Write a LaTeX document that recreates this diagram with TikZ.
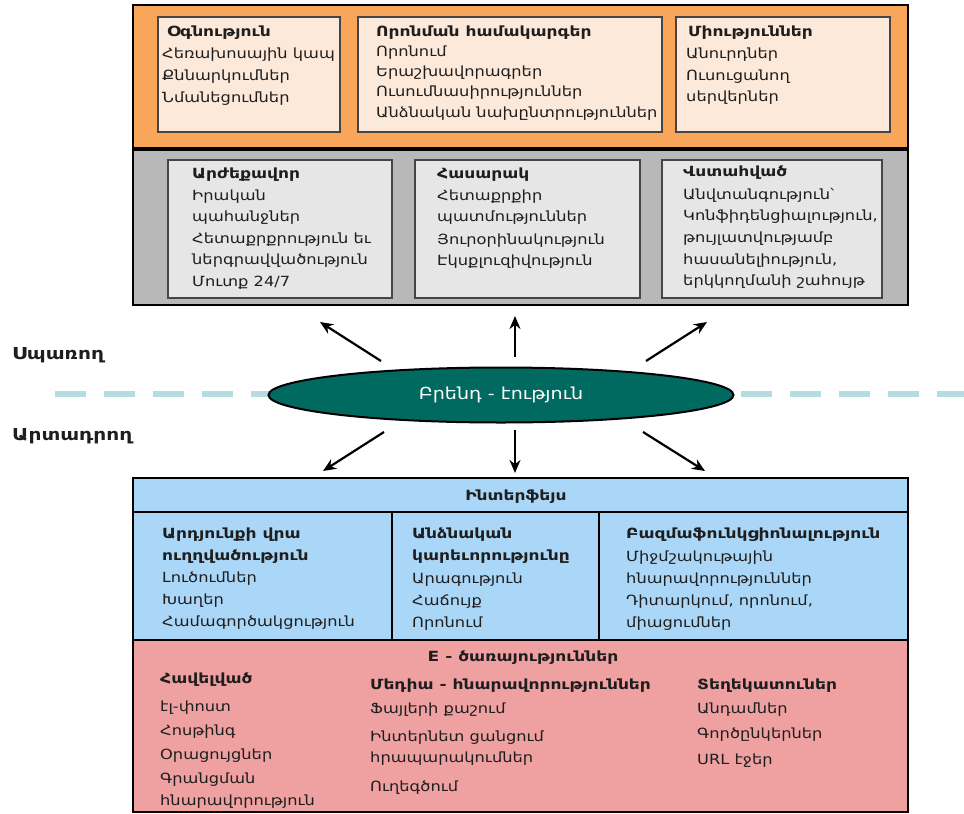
\documentclass[tikz,border=0pt]{standalone}
\usepackage{fontspec}
\setmainfont{DejaVu Sans}
% wide Armenian faces: regular and bold with their own stretch
\newfontfamily\bodyfam{DejaVu Sans}[FakeStretch=1.16]
\newfontfamily\headfam{DejaVu Sans Bold}[FakeStretch=1.22]
\usetikzlibrary{arrows.meta,shapes.geometric}
\definecolor{orangebg}{HTML}{F9A65A}
\definecolor{creambox}{HTML}{FDE9D9}
\definecolor{graybg}{HTML}{B8B8B8}
\definecolor{grayboxfill}{HTML}{E6E6E6}
\definecolor{bluebg}{HTML}{AAD7F8}
\definecolor{pinkbg}{HTML}{EFA0A0}
\definecolor{teal}{HTML}{006A60}
\definecolor{dashcol}{HTML}{B5DCE0}
\definecolor{ink}{HTML}{1E1E1E}
\definecolor{innerline}{HTML}{454545}
\begin{document}
\begin{tikzpicture}[x=1pt,y=-1pt,
  outerbox/.style={draw=black,line width=2.6pt,minimum width=#1,inner sep=0,rectangle},
  innerbox/.style={draw=innerline,line width=1.3pt,inner sep=0,rectangle},
  body/.style={font=\bodyfam\fontsize{14}{16}\selectfont,text=ink,anchor=base west,inner sep=0},
  head/.style={font=\headfam\fontsize{14}{16}\selectfont,text=ink,anchor=base west,inner sep=0},
  side/.style={font=\headfam\fontsize{16.5}{19}\selectfont,text=ink,anchor=base west,inner sep=0},
  arr/.style={draw=black,line width=2.2pt,-{Stealth[length=13pt,width=11pt]}},
]
\useasboundingbox (0,0) rectangle (964,814);

% ---------- upper panel: orange row ----------
\node[outerbox=775pt,minimum height=143pt,fill=orangebg] (top) at (520.5,76.5) {};
\node[innerbox,fill=creambox,minimum width=182pt,minimum height=115pt] (help) at (249,74.5) {};
\node[innerbox,fill=creambox,minimum width=304pt,minimum height=115pt] (search) at (510,74.5) {};
\node[innerbox,fill=creambox,minimum width=214pt,minimum height=115pt] (unions) at (783,74.5) {};

\node[head] (h1) at (167,36) {Օգնություն};
\node[body] (h2) at (162,58) {Հեռախոսային կապ};
\node[body] (h3) at (162,80) {Քննարկումներ};
\node[body] (h4) at (162,102) {Նմանեցումներ};

\node[head] (s1) at (376,36) {Որոնման համակարգեր};
\node[body] (s2) at (376,56) {Որոնում};
\node[body] (s3) at (376,76) {Երաշխավորագրեր};
\node[body] (s4) at (376,96) {Ուսումնասիրություններ};
\node[body] (s5) at (376,117) {Անձնական նախընտրություններ};

\node[head] (u1) at (688,36) {Միություններ};
\node[body] (u2) at (686,58) {Անուրդներ};
\node[body] (u3) at (686,80) {Ուսուցանող};
\node[body] (u4) at (686,101) {սերվերներ};

% ---------- upper panel: gray row ----------
\node[outerbox=775pt,minimum height=157pt,fill=graybg] (mid) at (520.5,226.5) {};
\node[innerbox,fill=grayboxfill,minimum width=224pt,minimum height=138pt] (valuable) at (280,229) {};
\node[innerbox,fill=grayboxfill,minimum width=225pt,minimum height=138pt] (simple) at (527.5,229) {};
\node[innerbox,fill=grayboxfill,minimum width=220pt,minimum height=138pt] (trusted) at (772,229) {};
% redraw shared edge of the orange row
\draw[line width=2.6pt] (top.south west) -- (top.south east);

\node[head] (v1) at (192,178) {Արժեքավոր};
\node[body] (v2) at (192,200) {Իրական};
\node[body] (v3) at (192,221) {պահանջներ};
\node[body] (v4) at (192,243) {Հետաքրքրություն եւ};
\node[body] (v5) at (192,264) {ներգրավվածություն};
\node[body] (v6) at (192,286) {Մուտք 24/7};

\node[head] (p1) at (437,178) {Հասարակ};
\node[body] (p2) at (437,200) {Հետաքրքիր};
\node[body] (p3) at (437,221) {պատմություններ};
\node[body] (p4) at (437,244) {Յուրօրինակություն};
\node[body] (p5) at (437,265) {Էկսքլուզիվություն};

\node[head] (r1) at (683,176) {Վստահված};
\node[body] (r2) at (683,199) {Անվտանգություն՝};
\node[body] (r3) at (683,220) {Կոնֆիդենցիալություն,};
\node[body] (r4) at (683,242) {թույլատվությամբ};
\node[body] (r5) at (683,264) {հասանելիություն,};
\node[body] (r6) at (683,285) {երկկողմանի շահույթ};

% ---------- brand core ----------
\coordinate (dl) at (55,394);
\coordinate (dr) at (964,394);
\draw[dashcol,line width=6pt,dash pattern=on 31pt off 18pt] (dl) -- (dr);
\node[ellipse,draw=black,line width=2pt,fill=teal,minimum width=465pt,minimum height=55pt,
      text=white,font=\bodyfam\fontsize{16.5}{18}\selectfont,inner sep=0] (brand) at (501,395) {Բրենդ - էություն};

\node[side] (consumer) at (12,359) {Սպառող};
\node[side] (producer) at (12,440) {Արտադրող};

\coordinate (aul0) at (381,361); \coordinate (aul1) at (320,322);
\coordinate (au0)  at (515,357); \coordinate (au1)  at (515,316);
\coordinate (aur0) at (646,361); \coordinate (aur1) at (707,322);
\coordinate (adl0) at (384,432); \coordinate (adl1) at (323,471);
\coordinate (ad0)  at (515,430); \coordinate (ad1)  at (515,473);
\coordinate (adr0) at (643,432); \coordinate (adr1) at (705,471);
\draw[arr] (aul0) -- (aul1);
\draw[arr] (au0) -- (au1);
\draw[arr] (aur0) -- (aur1);
\draw[arr] (adl0) -- (adl1);
\draw[arr] (ad0) -- (ad1);
\draw[arr] (adr0) -- (adr1);

% ---------- lower panel ----------
\node[outerbox=775pt,minimum height=34pt,fill=bluebg] (iface) at (520.5,495) {};
\node[outerbox=259pt,minimum height=128pt,fill=bluebg] (colA) at (262.5,576) {};
\node[outerbox=207pt,minimum height=128pt,fill=bluebg] (colB) at (495.5,576) {};
\node[outerbox=309pt,minimum height=128pt,fill=bluebg] (colC) at (753.5,576) {};
\node[outerbox=775pt,minimum height=172pt,fill=pinkbg] (eserv) at (520.5,726) {};

\node[head,anchor=base] (ifacet) at (516,500) {Ինտերֆեյս};

\node[head] (a1) at (162,538) {Արդյունքի վրա};
\node[head] (a2) at (162,560) {ուղղվածություն};
\node[body] (a3) at (162,582) {Լուծումներ};
\node[body] (a4) at (162,604) {Խաղեր};
\node[body] (a5) at (162,626) {Համագործակցություն};

\node[head] (b1) at (412,538) {Անձնական};
\node[head] (b2) at (412,560) {կարեւորությունը};
\node[body] (b3) at (412,583) {Արագություն};
\node[body] (b4) at (412,605) {Հաճույք};
\node[body] (b5) at (412,627) {Որոնում};

\node[head] (c1) at (626,538) {Բազմաֆունկցիոնալություն};
\node[body] (c2) at (626,561) {Միջմշակութային};
\node[body] (c3) at (626,583) {հնարավորություններ};
\node[body] (c4) at (626,605) {Դիտարկում, որոնում,};
\node[body] (c5) at (626,627) {միացումներ};

\node[head,anchor=base] (et) at (523,661) {E - ծառայություններ};

\node[head] (e1) at (160,683) {Հավելված};
\node[body] (e2) at (160,711) {էլ-փոստ};
\node[body] (e3) at (160,735) {Հոսթինգ};
\node[body] (e4) at (160,759) {Օրացույցներ};
\node[body] (e5) at (160,783) {Գրանցման};
\node[body] (e6) at (160,805) {հնարավորություն};

\node[head] (m1) at (370,689) {Մեդիա - հնարավորություններ};
\node[body] (m2) at (370,713) {Ֆայլերի քաշում};
\node[body] (m3) at (370,741) {Ինտերնետ ցանցում};
\node[body] (m4) at (370,762) {հրապարակումներ};
\node[body] (m5) at (370,791) {Ուղեգծում};

\node[head] (d1) at (697,689) {Տեղեկատուներ};
\node[body] (d2) at (697,713) {Անդամներ};
\node[body] (d3) at (697,738) {Գործընկերներ};
\node[body] (d4) at (697,764) {URL էջեր};
\end{tikzpicture}
\end{document}
